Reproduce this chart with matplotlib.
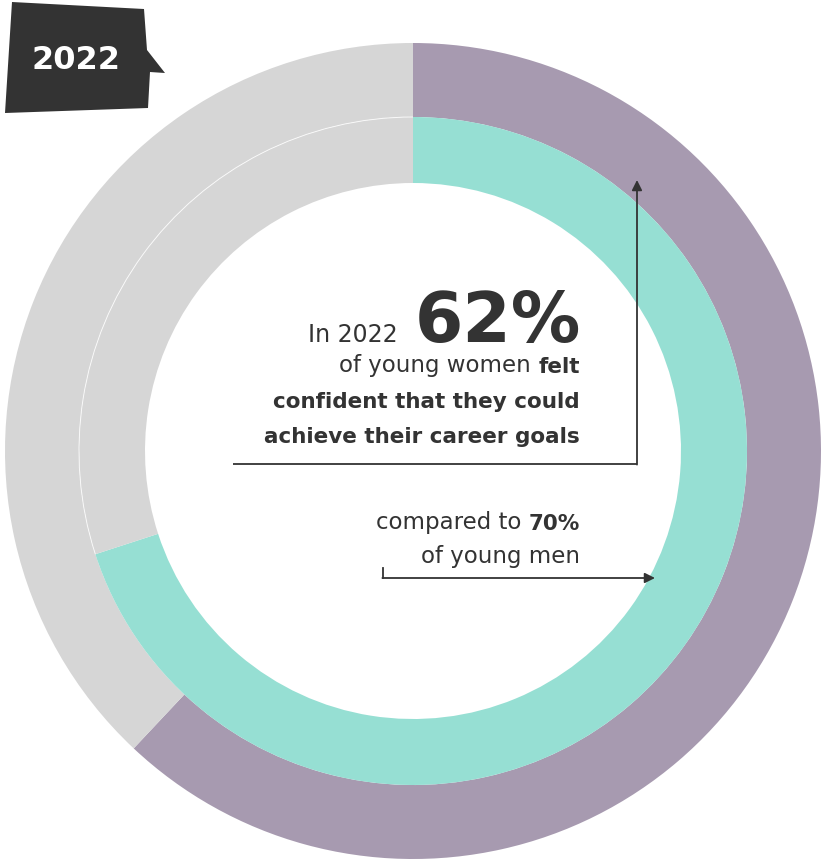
import matplotlib
matplotlib.use("Agg")
import matplotlib.pyplot as plt
from matplotlib.patches import Polygon, Arc

# Share of young people confident they could achieve their career goals (2022)
groups = ["Young women", "Young men"]
confident_pct = [62, 70]
year = "2022"

PURPLE = "#A79AB0"
TEAL = "#96DFD3"
GREY = "#D6D6D6"
INK = "#333333"
FONT = "DejaVu Sans"

W, H = 823, 863
fig = plt.figure(figsize=(W / 100, H / 100), dpi=100)
ax = fig.add_axes([0, 0, 1, 1])

cx, cy = 413, H - 451
R_OUT, R_MID, R_IN = 408, 334, 268

# outer ring: young women, inner ring: young men
women, men = confident_pct
ax.pie([women, 100 - women], radius=R_OUT, center=(cx, cy), startangle=90,
       counterclock=False, colors=[PURPLE, GREY],
       wedgeprops=dict(width=R_OUT - R_MID, edgecolor="none", linewidth=0))
ax.pie([men, 100 - men], radius=R_MID, center=(cx, cy), startangle=90,
       counterclock=False, colors=[TEAL, GREY],
       wedgeprops=dict(width=R_MID - R_IN, edgecolor="none", linewidth=0))
# faint seam where the two grey tracks meet
seam_end = 90 + (100 - max(women, men)) / 100 * 360
ax.add_patch(Arc((cx, cy), 2 * R_MID, 2 * R_MID, theta1=90, theta2=seam_end,
                 color="white", lw=0.7, alpha=0.8))

ax.set_xlim(0, W)
ax.set_ylim(0, H)
ax.set_aspect("equal")
ax.axis("off")

def Y(y):
    return H - y

# year badge
badge = [(12, 2), (144, 9), (147, 50), (165, 73), (150, 72), (148, 108), (5, 113)]
ax.add_patch(Polygon([(x, Y(y)) for x, y in badge], closed=True, fc=INK, ec="none"))
ax.text(76, Y(60), year, color="white", fontsize=23, fontweight="bold",
        family=FONT, ha="center", va="center")

# headline
ax.text(581, Y(342), f"{women}%", color=INK, fontsize=50, fontweight="bold",
        family=FONT, ha="right", va="baseline")
ax.text(398, Y(342), f"In {year}", color=INK, fontsize=17, family=FONT,
        ha="right", va="baseline")

fs_reg, fs_bold = 16.5, 15.5
line1 = ax.text(580, Y(373), "felt", color=INK, fontsize=fs_bold,
                fontweight="bold", family=FONT, ha="right", va="baseline")
ax.annotate("of young women ", xy=(0, 0), xycoords=line1, xytext=(0, 0),
            textcoords="offset points", ha="right", va="bottom",
            color=INK, fontsize=fs_reg, family=FONT)
ax.text(580, Y(408), "confident that they could", color=INK, fontsize=fs_bold,
        fontweight="bold", family=FONT, ha="right", va="baseline")
ax.text(580, Y(443), "achieve their career goals", color=INK, fontsize=fs_bold,
        fontweight="bold", family=FONT, ha="right", va="baseline")

# leader line to the outer ring
ax.plot([233, 637], [Y(464), Y(464)], color=INK, lw=1.3, solid_capstyle="butt")
ax.annotate("", xy=(637, Y(180)), xytext=(637, Y(464.6)),
            arrowprops=dict(arrowstyle="-|>", color=INK, lw=1.3,
                            mutation_scale=15, shrinkA=0, shrinkB=0))

# comparison note
cmp_val = ax.text(580, Y(530), f"{men}%", color=INK, fontsize=fs_bold,
                  fontweight="bold", family=FONT, ha="right", va="baseline")
ax.annotate("compared to ", xy=(0, 0), xycoords=cmp_val, xytext=(0, 0),
            textcoords="offset points", ha="right", va="bottom",
            color=INK, fontsize=fs_reg, family=FONT)
ax.text(580, Y(563), "of young men", color=INK, fontsize=fs_reg, family=FONT,
        ha="right", va="baseline")

ax.plot([383, 383], [Y(568), Y(578)], color=INK, lw=1.3)
ax.annotate("", xy=(655, Y(578)), xytext=(382.4, Y(578)),
            arrowprops=dict(arrowstyle="-|>", color=INK, lw=1.3,
                            mutation_scale=15, shrinkA=0, shrinkB=0))

fig.savefig("out.png", dpi=100)
